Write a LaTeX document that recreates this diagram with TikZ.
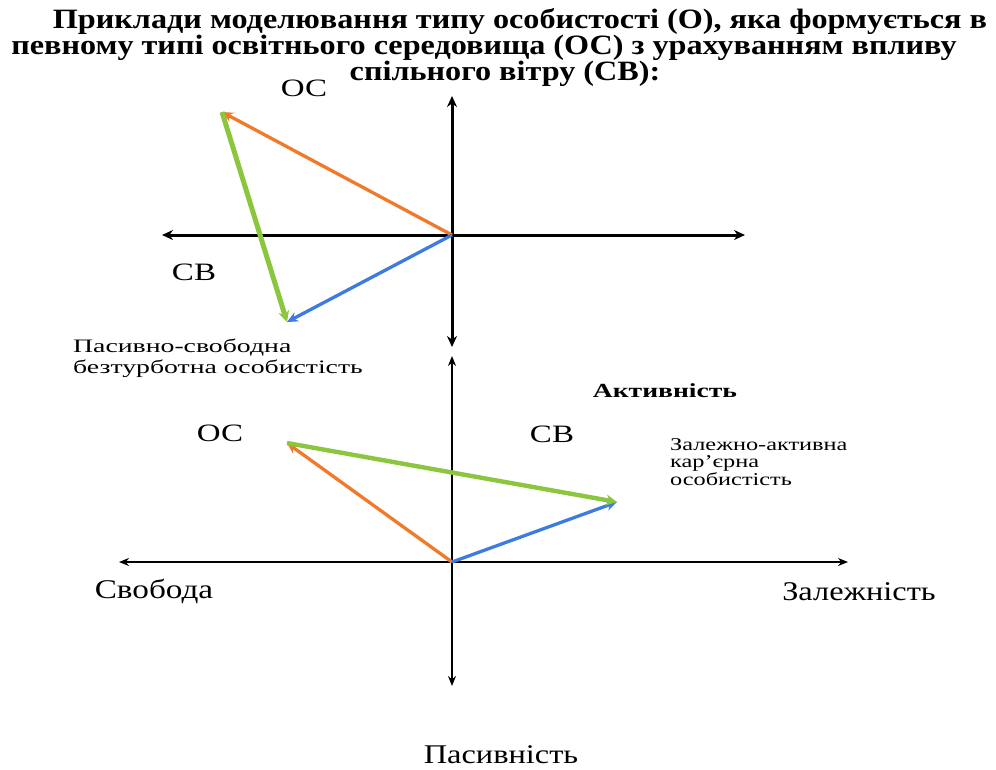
\documentclass[tikz,border=0pt]{standalone}
\usepackage{fontspec}
\usepackage{graphicx}
\setmainfont{Liberation Serif}
\usetikzlibrary{arrows.meta}
\definecolor{vorange}{HTML}{F07A2A}
\definecolor{vgreen}{HTML}{8CC63F}
\definecolor{vblue}{HTML}{3D7BE0}
\tikzset{
  axis/.style={draw=black, line width=3pt, -{Stealth[length=11pt,width=10pt]}},
  axisb/.style={draw=black, line width=2pt, -{Stealth[length=10pt,width=8pt]}},
  vec/.style={line width=3.3pt, -{Stealth[length=11pt,width=10pt]}},
  vecg/.style={line width=5pt, -{Stealth[length=11pt,width=11pt]}},
  vecgb/.style={line width=4.4pt, -{Stealth[length=11pt,width=11pt]}},
  plain/.style={inner sep=0pt}
}
\newcommand{\hs}[2]{\scalebox{#1}[1]{#2}}
\begin{document}
\begin{tikzpicture}[x=1pt,y=-1pt]
\useasboundingbox (0,0) rectangle (996,769);
% title
\node[plain, anchor=base, font=\bfseries\fontsize{28}{28}\selectfont] (t1) at (520,28) {\hs{1.15}{Приклади моделювання типу особистості (О), яка формується в}};
\node[plain, anchor=base, font=\bfseries\fontsize{28}{28}\selectfont] (t2) at (484,54) {\hs{1.15}{певному типі освітнього середовища (ОС) з урахуванням впливу}};
\node[plain, anchor=base, font=\bfseries\fontsize{28}{28}\selectfont] (t3) at (505,80) {\hs{1.15}{спільного вітру (СВ):}};
% top graph
\coordinate (o1) at (452,235);
\coordinate (l1) at (162,235);
\coordinate (r1) at (745,235);
\coordinate (u1) at (452,96);
\coordinate (d1) at (452,347);
\coordinate (os1) at (222,112);
\coordinate (p1) at (287,322);
\draw[axis] (o1) -- (l1);
\draw[axis] (o1) -- (r1);
\draw[axis] (o1) -- (u1);
\draw[axis] (o1) -- (d1);
\draw[vec, vorange] (o1) -- (os1);
\draw[vec, vblue] (o1) -- (p1);
\draw[vecg, vgreen] (os1) -- (p1);
\node[plain, font=\fontsize{25}{25}\selectfont] (lOS1) at (304,88) {\hs{1.32}{ОС}};
\node[plain, font=\fontsize{25}{25}\selectfont] (lCB1) at (194,272) {\hs{1.32}{СВ}};
\node[plain, anchor=base west, font=\fontsize{19}{21}\selectfont] (lP1) at (73,352) {\hs{1.46}{\begin{tabular}[t]{@{}l@{}}Пасивно-свободна\\безтурботна особистість\end{tabular}}};
% bottom graph
\coordinate (o2) at (452,562);
\coordinate (l2) at (119,562);
\coordinate (r2) at (848,562);
\coordinate (u2) at (452,356);
\coordinate (d2) at (452,686);
\coordinate (os2) at (287,443);
\coordinate (p2) at (617,502);
\draw[axisb] (o2) -- (l2);
\draw[axisb] (o2) -- (r2);
\draw[axisb] (o2) -- (u2);
\draw[axisb] (o2) -- (d2);
\draw[vec, vorange] (o2) -- (os2);
\draw[vec, vblue] (o2) -- (p2);
\draw[vecgb, vgreen] (os2) -- (p2);
\node[plain, font=\bfseries\fontsize{20}{20}\selectfont] (lA) at (665,391) {\hs{1.38}{Активність}};
\node[plain, font=\fontsize{25}{25}\selectfont] (lOS2) at (220,433) {\hs{1.32}{ОС}};
\node[plain, font=\fontsize{25}{25}\selectfont] (lCB2) at (552,434) {\hs{1.32}{СВ}};
\node[plain, anchor=base west, font=\fontsize{18}{17}\selectfont] (lZ) at (670,450) {\hs{1.35}{\begin{tabular}[t]{@{}l@{}}Залежно-активна\\кар'єрна\\особистість\end{tabular}}};
\node[plain, font=\fontsize{27}{27}\selectfont] (lS) at (154,591) {\hs{1.23}{Свобода}};
\node[plain, font=\fontsize{27}{27}\selectfont] (lZl) at (859,592) {\hs{1.2}{Залежність}};
\node[plain, font=\fontsize{27}{27}\selectfont] (lPs) at (501,755) {\hs{1.2}{Пасивність}};
\end{tikzpicture}
\end{document}
